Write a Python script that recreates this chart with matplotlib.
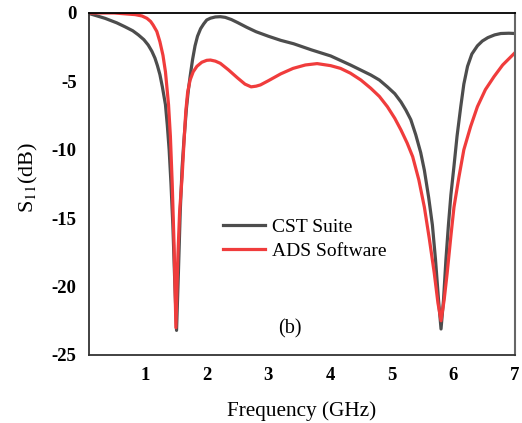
import matplotlib
matplotlib.use("Agg")
import matplotlib.pyplot as plt

# CST Suite
cst_f = [0.1, 0.35, 0.54, 0.67, 0.8, 0.89, 0.98, 1.05, 1.11, 1.16, 1.2, 1.24, 1.28, 1.33, 1.36,
         1.39, 1.42, 1.45, 1.48, 1.51, 1.54, 1.57, 1.60, 1.63, 1.67, 1.70, 1.73, 1.77, 1.81,
         1.85, 1.9, 1.95, 2.0, 2.06, 2.14, 2.22, 2.3, 2.4, 2.5, 2.65, 2.8, 3.0, 3.2, 3.41, 3.7,
         4.01, 4.33, 4.66, 4.8, 4.93, 5.05, 5.15, 5.23, 5.31, 5.39, 5.47, 5.53, 5.6, 5.66, 5.71,
         5.76, 5.80, 5.84, 5.88, 5.92, 5.96, 6.01, 6.06, 6.12, 6.17, 6.23, 6.3, 6.39, 6.47, 6.56,
         6.67, 6.77, 6.9, 7.0]
cst_s = [-0.05, -0.39, -0.72, -1.0, -1.3, -1.6, -1.95, -2.34, -2.8, -3.3, -3.85, -4.5, -5.4, -6.7, -8.2,
         -10.0, -12.5, -15.5, -19.5, -23.2, -19.0, -14.5, -11.3, -9.3, -7.0, -5.7, -4.65, -3.4, -2.4,
         -1.7, -1.15, -0.8, -0.51, -0.38, -0.29, -0.27, -0.32, -0.48, -0.7, -1.05, -1.37, -1.7, -2.0, -2.25, -2.7,
         -3.14, -3.8, -4.53, -4.9, -5.4, -5.9, -6.5, -7.1, -7.8, -8.9, -10.2, -11.5, -13.5, -15.5, -18.0,
         -21.0, -23.1, -21.0, -18.0, -15.5, -13.3, -11.2, -9.0, -6.85, -5.2, -3.9, -3.0, -2.4, -2.05, -1.8,
         -1.6, -1.5, -1.48, -1.5]

# ADS Software
ads_f = [0.1, 0.5, 0.84, 0.95, 1.03, 1.09, 1.13, 1.19, 1.24, 1.29, 1.33, 1.38, 1.41, 1.44, 1.47,
         1.50, 1.53, 1.56, 1.60, 1.63, 1.66, 1.69, 1.73, 1.78, 1.84, 1.92, 2.0, 2.06, 2.14, 2.22,
         2.35, 2.5, 2.62, 2.72, 2.8, 2.87, 3.0, 3.2, 3.4, 3.6, 3.79, 4.01, 4.17, 4.33, 4.5, 4.66,
         4.8, 4.93, 5.05, 5.15, 5.25, 5.34, 5.44, 5.53, 5.61, 5.69, 5.75, 5.80, 5.85, 5.9, 5.96,
         6.01, 6.09, 6.17, 6.28, 6.39, 6.52, 6.66, 6.8, 6.9, 7.0]
ads_s = [0.0, 0.0, -0.12, -0.22, -0.39, -0.62, -0.88, -1.35, -2.1, -3.1, -4.3, -6.7, -9.0, -12.5, -17.0,
         -23.0, -18.0, -14.5, -12.0, -9.5, -7.2, -5.8, -4.9, -4.3, -3.9, -3.6, -3.46, -3.44, -3.52, -3.68,
         -4.15, -4.75, -5.2, -5.4, -5.35, -5.26, -4.95, -4.45, -4.05, -3.8, -3.7, -3.85, -4.05, -4.4, -4.9, -5.5,
         -6.1, -6.85, -7.7, -8.55, -9.5, -10.5, -12.2, -14.2, -16.5, -19.0, -21.2, -22.5, -21.0, -19.0, -16.3,
         -14.2, -12.0, -10.0, -8.3, -6.85, -5.6, -4.65, -3.8, -3.35, -2.9]

xticks = [1, 2, 3, 4, 5, 6, 7]
yticks = [0, -5, -10, -15, -20, -25]

plt.rcParams['font.family'] = ['Liberation Serif', 'DejaVu Serif']
plt.rcParams['mathtext.fontset'] = 'stix'

fig = plt.figure(figsize=(5.22, 4.23), dpi=100)
ax = fig.add_axes([0.1705, 0.1608, 0.8161, 0.8085])

ax.plot(cst_f, cst_s, color='#4d4d4d', lw=2.3, label='CST Suite', solid_joinstyle='round')
ax.plot(ads_f, ads_s, color='#f03c3c', lw=2.3, label='ADS Software', solid_joinstyle='round')

ax.set_xlim(0.09, 7.0)
ax.set_ylim(-25, 0)
ax.set_xticks(xticks)
ax.set_yticks(yticks)
ax.set_xticklabels([str(t) for t in xticks], fontweight='bold', fontsize=13.5)
ax.set_yticklabels([str(t) for t in yticks], fontweight='bold', fontsize=13.5)
ax.tick_params(axis='y', length=0, pad=9)
ax.tick_params(axis='x', length=0, pad=9)

for side in ['left', 'bottom']:
    ax.spines[side].set_color('#333333')
    ax.spines[side].set_linewidth(1.3)
ax.spines['top'].set_color('#000000')
ax.spines['top'].set_linewidth(1.3)
ax.spines['right'].set_color('#666666')
ax.spines['right'].set_linewidth(1.5)

ax.set_xlabel('Frequency (GHz)', fontsize=15.3, labelpad=12)
ax.set_ylabel('S$_{11}$(dB)', fontsize=16)
ax.yaxis.set_label_coords(-0.116, 0.519)

leg = ax.legend(loc='upper left', bbox_to_anchor=(0.273, 0.45), frameon=False,
                fontsize=14, handlelength=2.15, handletextpad=0.36, labelspacing=0.3)

ax.text(3.35, -23.1, '(b)', fontsize=14.5, ha='center', va='center')

fig.savefig('out.png', dpi=100)
